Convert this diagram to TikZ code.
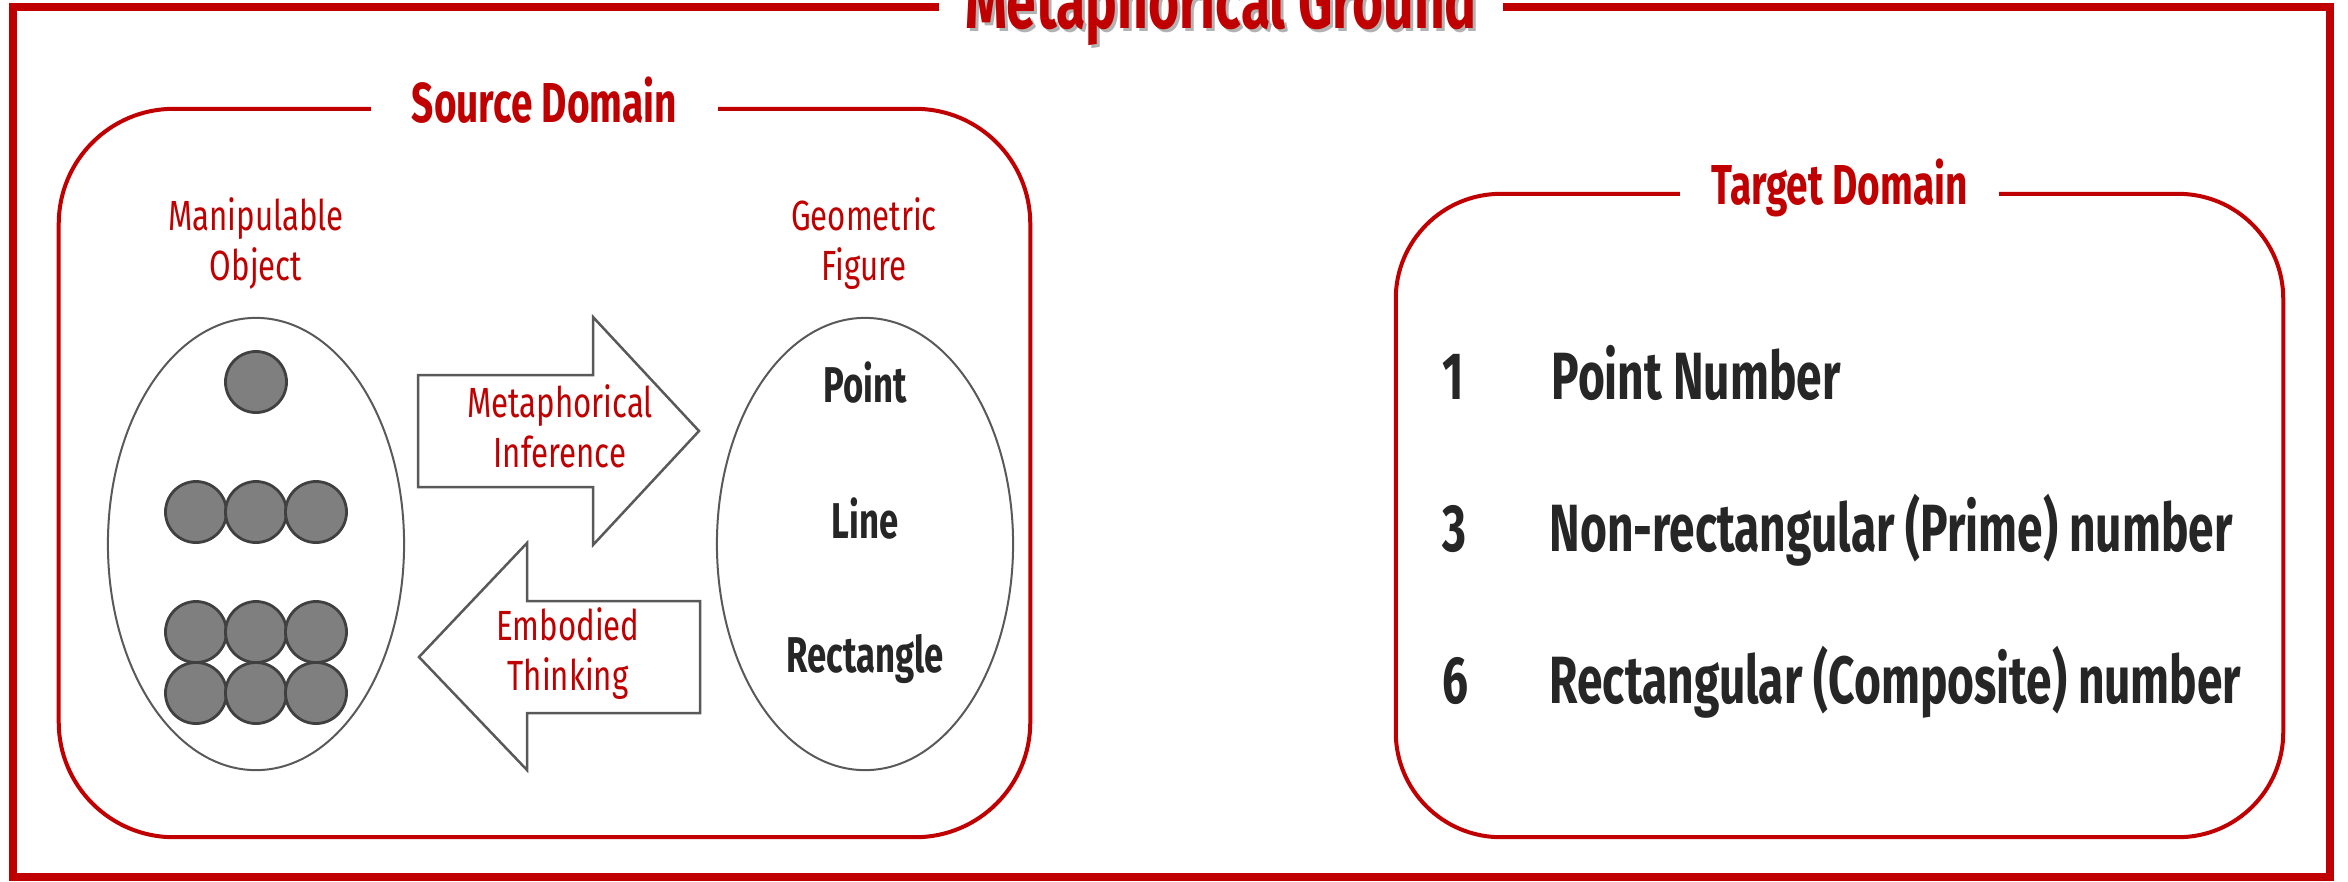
\documentclass[tikz,border=0pt]{standalone}
\usepackage{fontspec}
\setmainfont{Fira Sans}[FakeStretch=0.74,BoldFeatures={FakeStretch=0.69}]
\usetikzlibrary{positioning,calc,shapes.geometric}
\definecolor{framered}{RGB}{192,0,0}
\definecolor{edgegray}{RGB}{89,89,89}
\definecolor{ballgray}{RGB}{127,127,127}
\definecolor{balledge}{RGB}{64,64,64}
\definecolor{inkdark}{RGB}{38,38,38}

\begin{document}
\begin{tikzpicture}[x=0.01cm,y=-0.01cm,
  domainbox/.style={draw=framered,line width=0.04cm,rounded corners=1.15cm},
  domaintitle/.style={fill=white,text=framered,anchor=base,inner ysep=3pt,
    font=\fontsize{16}{19}\selectfont\bfseries},
  redlabel/.style={text=framered,align=center,anchor=base,
    font=\fontsize{12}{14.2}\selectfont},
  figlabel/.style={text=inkdark,anchor=base,font=\fontsize{14.3}{17}\selectfont\bfseries},
  numlabel/.style={text=inkdark,anchor=base west,inner sep=0pt,
    font=\fontsize{19}{22}\selectfont\bfseries},
  headline/.style={anchor=base,font=\fontsize{22}{26}\selectfont\bfseries},
  blob/.style={ellipse,draw=edgegray,line width=0.02cm,minimum width=2.96cm,minimum height=4.52cm},
  ball/.style={circle,draw=balledge,fill=ballgray,line width=0.028cm,minimum size=0.61cm,inner sep=0pt},
  bigarrow/.style={draw=edgegray,fill=white,line width=0.025cm,line join=miter}]
  \useasboundingbox (0,0) rectangle (2348,881);

  % outer frame with its title
  \node[headline,text=black!30] (mainshadow) at (1224,31) {Metaphorical Ground};
  \node[headline,text=framered,inner xsep=0.25cm] (maintitle) at (1221,28) {Metaphorical Ground};
  \draw[framered,line width=0.08cm] (maintitle.west |- 0,7) -- (13,7) -- (13,877) -- (2330,877) -- (2330,7) -- (maintitle.east |- 0,7);

  % source domain
  \node[domainbox,minimum width=9.71cm,minimum height=7.28cm] (src) at (544.5,473) {};
  \node[domaintitle,inner xsep=0.41cm] (srctitle) at ($(src.north)+(0,16)$) {Source Domain};
  \node[redlabel] (objlabel) at (256,280) {Manipulable\\Object};
  \node[redlabel] (figlabel) at (864,280) {Geometric\\Figure};
  \node[blob] (objects) at (256,544) {};
  \node[blob] (figures) at (865,544) {};

  \node[ball] (b0) at (256,382) {};
  \foreach \i/\x in {1/196,2/256,3/316} {
    \node[ball] (r\i) at (\x,512) {};
    \node[ball] (s\i) at (\x,632) {};
    \node[ball] (t\i) at (\x,693) {};
  }

  \node[figlabel] (point) at (865,402) {Point};
  \node[figlabel] (line) at (865,538) {Line};
  \node[figlabel] (rect) at (865,672) {Rectangle};

  % the two block arrows
  \draw[bigarrow] (418,375) -- (593,375) -- (593,317) -- (699,431) -- (593,545) -- (593,487) -- (418,487) -- cycle;
  \draw[bigarrow] (700,601) -- (527,601) -- (527,543) -- (419,657) -- (527,770) -- (527,713) -- (700,713) -- cycle;
  \node[redlabel] (infer) at (560,467) {Metaphorical\\Inference};
  \node[redlabel] (embody) at (568,690) {Embodied\\Thinking};

  % target domain
  \node[domainbox,rounded corners=1.05cm,minimum width=8.87cm,minimum height=6.43cm] (tgt) at (1839.5,515.5) {};
  \node[domaintitle,inner xsep=0.31cm] (tgttitle) at ($(tgt.north)+(0,13)$) {Target Domain};
  \node[numlabel] (n1) at (1442,399) {1};
  \node[numlabel] (n3) at (1442,551) {3};
  \node[numlabel] (n6) at (1442,703) {6};
  \node[numlabel] (t1) at (1551,399) {Point Number};
  \node[numlabel] (t3) at (1549,551) {Non-rectangular (Prime) number};
  \node[numlabel] (t6) at (1549,703) {Rectangular (Composite) number};
\end{tikzpicture}
\end{document}
